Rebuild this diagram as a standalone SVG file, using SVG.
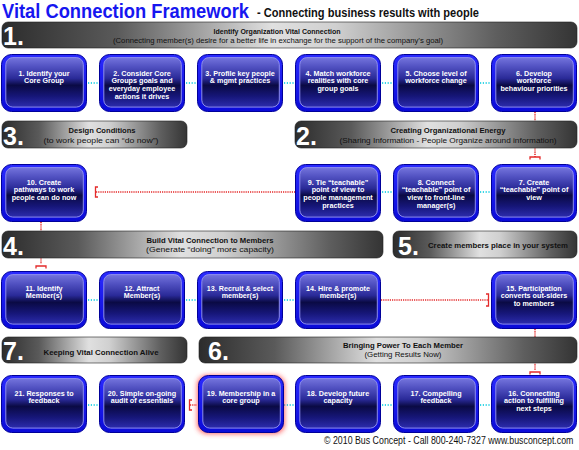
<svg xmlns="http://www.w3.org/2000/svg" xmlns:xlink="http://www.w3.org/1999/xlink" width="579" height="450" viewBox="0 0 579 450">
<defs>
<style>
.ttl{font-family:"Liberation Sans",Arial,sans-serif;font-weight:bold}
.bt{font-family:"Liberation Sans",Arial,sans-serif;font-weight:bold;font-size:7.2px;fill:#fff;text-anchor:middle}
.num{font-family:"Liberation Sans",Arial,sans-serif;font-weight:bold;font-size:25px;fill:#fff}
.bh{font-family:"Liberation Sans",Arial,sans-serif;font-weight:bold;font-size:7.5px;fill:#111;text-anchor:middle}
.bs{font-family:"Liberation Sans",Arial,sans-serif;font-size:8px;fill:#111;text-anchor:middle}
.cy{stroke:#3ad6e6;stroke-width:2;stroke-dasharray:1.2 1.6;fill:none}
.rd{stroke:#e42a2a;stroke-width:1.6;stroke-dasharray:1.2 1;fill:none}
.rs{stroke:#e42a2a;stroke-width:1.3;fill:none}
.bn{fill:url(#bannerG);stroke:#1e1e1e;stroke-width:0.6}
</style>
<linearGradient id="bannerG" x1="0" y1="0" x2="1" y2="0">
<stop offset="0" stop-color="#2c2c2c"/>
<stop offset="0.2" stop-color="#5a5a5a"/>
<stop offset="0.47" stop-color="#e0e0e0"/>
<stop offset="0.58" stop-color="#d0d0d0"/>
<stop offset="0.86" stop-color="#5e5e5e"/>
<stop offset="1" stop-color="#343434"/>
</linearGradient>
<linearGradient id="outerG" x1="0" y1="0" x2="0" y2="1">
<stop offset="0" stop-color="#2a2aff"/>
<stop offset="1" stop-color="#0a0ad8"/>
</linearGradient>
<linearGradient id="innerG" x1="0" y1="0" x2="0" y2="1">
<stop offset="0" stop-color="#7474dc"/>
<stop offset="0.18" stop-color="#5252c2"/>
<stop offset="0.42" stop-color="#2a2a98"/>
<stop offset="0.56" stop-color="#0a0a44"/>
<stop offset="0.78" stop-color="#161678"/>
<stop offset="1" stop-color="#2c2cae"/>
</linearGradient>
<filter id="glow" x="-30%" y="-30%" width="160%" height="160%">
<feGaussianBlur stdDeviation="2.6"/>
</filter>
<g id="boxbg">
<rect x="0.5" y="0.5" width="85" height="57" rx="10" fill="url(#outerG)" stroke="#00009a" stroke-width="1"/>
<rect x="4.8" y="3.6" width="77.5" height="49.5" rx="7" fill="url(#innerG)" stroke="#8e8eec" stroke-width="1"/>
</g>
</defs>
<rect width="579" height="450" fill="#fff"/>

<text class="ttl" x="2" y="17.5" font-size="20.5" fill="#1616f0" textLength="247" lengthAdjust="spacingAndGlyphs">Vital Connection Framework</text>
<text class="ttl" x="257" y="17" font-size="12" fill="#111" textLength="222" lengthAdjust="spacingAndGlyphs">- Connecting business results with people</text>

<g id="connectors">
<path class="cy" d="M88,83H99M186,83H197M284,83H295M382,83H393M480,83H491"/>
<path class="cy" d="M382,192H393M480,192H491"/>
<path class="cy" d="M88,300H99M186,300H197M284,300H295"/>
<path class="cy" d="M88,405H99M284,405H295M382,405H393M480,405H491"/>
<path class="rd" d="M535,112V157"/>
<path class="rs" d="M530,159.5V157H540V159.5"/>
<path class="rd" d="M96,192H295"/>
<path class="rs" d="M98,187H95.5V197H98"/>
<path class="rd" d="M41,222V264"/>
<path class="rs" d="M36,268.5V266H46V268.5"/>
<path class="rd" d="M381,300H488"/>
<path class="rs" d="M486,294H488.5V306H486"/>
<path class="rd" d="M535,329V370"/>
<path class="rs" d="M530,374.5V372H540V374.5"/>
<path class="rd" d="M190,405H197"/>
<path class="rs" d="M192,400H189.5V410H192"/>
</g>

<g id="banner1">
<rect class="bn" x="2" y="22" width="575" height="26" rx="6"/>
<text class="num" x="3" y="44.5">1.</text>
<text class="bh" x="277" y="33.5" textLength="127" lengthAdjust="spacingAndGlyphs">Identify Organization Vital Connection</text>
<text class="bs" x="278" y="43" textLength="330" lengthAdjust="spacingAndGlyphs">(Connecting member(s) desire for a better life in exchange for the support of the company’s goal)</text>
</g>
<g id="banner3">
<rect class="bn" x="2" y="121" width="185" height="27" rx="6"/>
<text class="num" x="3" y="144.5">3.</text>
<text class="bh" x="102" y="132.5" textLength="67" lengthAdjust="spacingAndGlyphs">Design Conditions</text>
<text class="bs" x="101" y="142.5" font-size="8.5" textLength="115" lengthAdjust="spacingAndGlyphs">(to work people can “do now”)</text>
</g>
<g id="banner2">
<rect class="bn" x="295" y="121" width="282" height="27" rx="6"/>
<text class="num" x="296" y="144.5">2.</text>
<text class="bh" x="448" y="132.5" textLength="115" lengthAdjust="spacingAndGlyphs">Creating Organizational Energy</text>
<text class="bs" x="448" y="142.5" textLength="217" lengthAdjust="spacingAndGlyphs">(Sharing Information - People Organize around information)</text>
</g>
<g id="banner4">
<rect class="bn" x="2" y="231" width="381" height="27" rx="6"/>
<text class="num" x="3" y="254.5">4.</text>
<text class="bh" x="210" y="242.5" textLength="127" lengthAdjust="spacingAndGlyphs">Build Vital Connection to Members</text>
<text class="bs" x="210" y="252" font-size="8.5" textLength="128" lengthAdjust="spacingAndGlyphs">(Generate “doing” more capacity)</text>
</g>
<g id="banner5">
<rect class="bn" x="393" y="231" width="184" height="27" rx="6"/>
<text class="num" x="398" y="254.5">5.</text>
<text class="bh" x="498" y="247.5" textLength="140" lengthAdjust="spacingAndGlyphs">Create members place in your system</text>
</g>
<g id="banner7">
<rect class="bn" x="2" y="337" width="185" height="26" rx="6"/>
<text class="num" x="3" y="359.5">7.</text>
<text class="bh" x="101" y="354.5" textLength="115" lengthAdjust="spacingAndGlyphs">Keeping Vital Connection Alive</text>
</g>
<g id="banner6">
<rect class="bn" x="199" y="337" width="378" height="26" rx="6"/>
<text class="num" x="208" y="359.5">6.</text>
<text class="bh" x="403" y="347.5" textLength="120" lengthAdjust="spacingAndGlyphs">Bringing Power To Each Member</text>
<text class="bs" x="403" y="357" textLength="77" lengthAdjust="spacingAndGlyphs">(Getting Results Now)</text>
</g>

<g id="node1"><use href="#boxbg" x="1" y="54"/><text class="bt" x="44" y="75.5">1. Identify your</text><text class="bt" x="44" y="83.4">Core Group</text></g>
<g id="node2"><use href="#boxbg" x="99" y="54"/><text class="bt" x="142" y="75.5">2. Consider Core</text><text class="bt" x="142" y="83.4">Groups goals and</text><text class="bt" x="142" y="91.3">everyday employee</text><text class="bt" x="142" y="99.2">actions it drives</text></g>
<g id="node3"><use href="#boxbg" x="197" y="54"/><text class="bt" x="240" y="75.5">3. Profile key people</text><text class="bt" x="240" y="83.4">&amp; mgmt practices</text></g>
<g id="node4"><use href="#boxbg" x="295" y="54"/><text class="bt" x="338" y="75.5">4. Match workforce</text><text class="bt" x="338" y="83.4">realities with core</text><text class="bt" x="338" y="91.3">group goals</text></g>
<g id="node5"><use href="#boxbg" x="393" y="54"/><text class="bt" x="436" y="75.5">5. Choose level of</text><text class="bt" x="436" y="83.4">workforce change</text></g>
<g id="node6"><use href="#boxbg" x="491" y="54"/><text class="bt" x="534" y="75.5">6. Develop</text><text class="bt" x="534" y="83.4">workforce</text><text class="bt" x="534" y="91.3">behaviour priorities</text></g>

<g id="node10"><use href="#boxbg" x="1" y="164"/><text class="bt" x="44" y="184.5">10. Create</text><text class="bt" x="44" y="192.4">pathways to work</text><text class="bt" x="44" y="200.3">people can do now</text></g>
<g id="node9"><use href="#boxbg" x="295" y="164"/><text class="bt" x="338" y="184.5">9. Tie “teachable”</text><text class="bt" x="338" y="192.4">point of view to</text><text class="bt" x="338" y="200.3">people management</text><text class="bt" x="338" y="208.2">practices</text></g>
<g id="node8"><use href="#boxbg" x="393" y="164"/><text class="bt" x="436" y="184.5">8. Connect</text><text class="bt" x="436" y="192.4">“teachable” point of</text><text class="bt" x="436" y="200.3">view to front-line</text><text class="bt" x="436" y="208.2">manager(s)</text></g>
<g id="node7"><use href="#boxbg" x="491" y="164"/><text class="bt" x="534" y="184.5">7. Create</text><text class="bt" x="534" y="192.4">“teachable” point of</text><text class="bt" x="534" y="200.3">view</text></g>

<g id="node11"><use href="#boxbg" x="1" y="271"/><text class="bt" x="44" y="290.5">11. Identify</text><text class="bt" x="44" y="298.4">Member(s)</text></g>
<g id="node12"><use href="#boxbg" x="99" y="271"/><text class="bt" x="142" y="290.5">12. Attract</text><text class="bt" x="142" y="298.4">Member(s)</text></g>
<g id="node13"><use href="#boxbg" x="197" y="271"/><text class="bt" x="240" y="290.5">13. Recruit &amp; select</text><text class="bt" x="240" y="298.4">member(s)</text></g>
<g id="node14"><use href="#boxbg" x="295" y="271"/><text class="bt" x="338" y="290.5">14. Hire &amp; promote</text><text class="bt" x="338" y="298.4">member(s)</text></g>
<g id="node15"><use href="#boxbg" x="491" y="271"/><text class="bt" x="534" y="290.5">15. Participation</text><text class="bt" x="534" y="298.4">converts out-siders</text><text class="bt" x="534" y="306.3">to members</text></g>

<g id="node21"><use href="#boxbg" x="1" y="375"/><text class="bt" x="44" y="395.5">21. Responses to</text><text class="bt" x="44" y="403.4">feedback</text></g>
<g id="node20"><use href="#boxbg" x="99" y="375"/><text class="bt" x="142" y="395.5">20. Simple on-going</text><text class="bt" x="142" y="403.4">audit of essentials</text></g>
<g id="node19"><rect x="197" y="375" width="88" height="59" rx="10" fill="#ff3a3a" opacity="0.75" filter="url(#glow)"/><use href="#boxbg" x="198" y="375"/><text class="bt" x="241" y="395.5">19. Membership in a</text><text class="bt" x="241" y="403.4">core group</text></g>
<g id="node18"><use href="#boxbg" x="295" y="375"/><text class="bt" x="338" y="395.5">18. Develop future</text><text class="bt" x="338" y="403.4">capacity</text></g>
<g id="node17"><use href="#boxbg" x="393" y="375"/><text class="bt" x="436" y="395.5">17. Compelling</text><text class="bt" x="436" y="403.4">feedback</text></g>
<g id="node16"><use href="#boxbg" x="491" y="375"/><text class="bt" x="534" y="395.5">16. Connecting</text><text class="bt" x="534" y="403.4">action to fulfilling</text><text class="bt" x="534" y="411.3">next steps</text></g>

<text transform="translate(324,444) scale(0.84,1)" x="0" y="0" font-family="'Liberation Sans',Arial,sans-serif" font-size="10.5" fill="#111">© 2010 Bus Concept - Call 800-240-7327 www.busconcept.com</text>
</svg>
